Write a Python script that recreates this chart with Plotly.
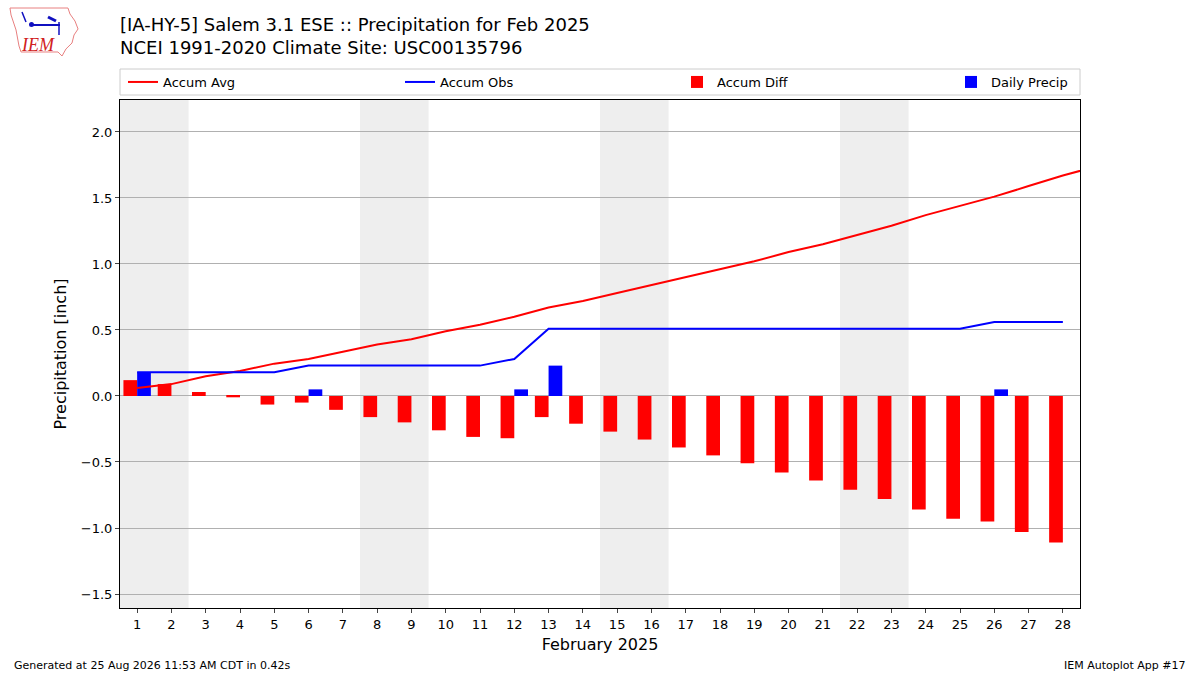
import datetime
import plotly.graph_objects as go

# Values (inches)
days = list(range(1, 29))
daily_precip = [0.18, 0, 0, 0, 0, 0.05, 0, 0, 0, 0, 0, 0.05, 0.23, 0,
                0, 0, 0, 0, 0, 0, 0, 0, 0, 0, 0, 0.05, 0, 0]
accum_obs = [0.18, 0.18, 0.18, 0.18, 0.18, 0.23, 0.23, 0.23, 0.23, 0.23, 0.23, 0.28, 0.51, 0.51,
             0.51, 0.51, 0.51, 0.51, 0.51, 0.51, 0.51, 0.51, 0.51, 0.51, 0.51, 0.56, 0.56, 0.56]
avg_days = list(range(1, 30))
accum_avg = [0.06, 0.09, 0.15, 0.19, 0.245, 0.28, 0.335, 0.39, 0.43, 0.49, 0.54, 0.60, 0.67, 0.72,
             0.78, 0.84, 0.90, 0.96, 1.02, 1.09, 1.15, 1.22, 1.29, 1.37, 1.44, 1.51, 1.59, 1.67, 1.74]
accum_diff = [0.12, 0.09, 0.03, -0.01, -0.065, -0.05, -0.105, -0.16, -0.20, -0.26, -0.31, -0.32,
              -0.16, -0.21, -0.27, -0.33, -0.39, -0.45, -0.51, -0.58, -0.64, -0.71, -0.78, -0.86,
              -0.93, -0.95, -1.03, -1.11]

W, H = 1200, 675
L, R, T, B = 120, 1080, 100, 608
FONT = "DejaVu Sans"


# pixel -> paper coords
def px(x):
    return (x - L) / (R - L)


def py(y):
    return (B - y) / (B - T)


fig = go.Figure()

fig.add_trace(go.Scatter(x=avg_days, y=accum_avg, mode="lines", name="Accum Avg",
                         line=dict(color="red", width=2), legend="legend"))
fig.add_trace(go.Scatter(x=days, y=accum_obs, mode="lines", name="Accum Obs",
                         line=dict(color="blue", width=2), legend="legend2"))
fig.add_trace(go.Bar(x=days, y=accum_diff, name="Accum Diff", marker=dict(color="red", line=dict(width=0)),
                     width=0.4, offset=-0.4, legend="legend3"))
fig.add_trace(go.Bar(x=days, y=daily_precip, name="Daily Precip", marker=dict(color="blue", line=dict(width=0)),
                     width=0.4, offset=0, legend="legend4"))

# weekend shading (Sat+Sun as one block)
shapes = []
for d in days:
    if datetime.date(2025, 2, d).weekday() == 5:
        shapes.append(dict(type="rect", xref="x", yref="paper", x0=d - 0.5, x1=d + 1.5,
                           y0=0, y1=1, fillcolor="#eeeeee", line=dict(width=0), layer="below"))

# legend frame
shapes.append(dict(type="rect", xref="paper", yref="paper", x0=px(120), x1=px(1080), y0=py(95), y1=py(69),
                   line=dict(color="#cccccc", width=1), fillcolor="white", layer="below"))

# crude IEM logo: Iowa outline
iowa = [(10, 8), (68, 8), (70, 14), (75, 21), (78, 29), (74, 35), (72, 43), (66, 49),
        (62, 56), (58, 52), (21, 52), (19, 46), (16, 30), (11, 15)]
path = "M " + " L ".join("%.4f,%.4f" % (px(x), py(y)) for x, y in iowa) + " Z"
shapes.append(dict(type="path", xref="paper", yref="paper", path=path,
                   line=dict(color="#e88080", width=1)))
shapes.append(dict(type="line", xref="paper", yref="paper", x0=px(30), x1=px(60), y0=py(25), y1=py(25),
                   line=dict(color="#1010c0", width=2)))
shapes.append(dict(type="line", xref="paper", yref="paper", x0=px(22), x1=px(26), y0=py(12), y1=py(22),
                   line=dict(color="#1010c0", width=1.5)))
shapes.append(dict(type="line", xref="paper", yref="paper", x0=px(48), x1=px(56), y0=py(17), y1=py(21),
                   line=dict(color="#1010c0", width=3)))
shapes.append(dict(type="line", xref="paper", yref="paper", x0=px(59), x1=px(59), y0=py(22), y1=py(35),
                   line=dict(color="#1010c0", width=1.5)))
shapes.append(dict(type="circle", xref="paper", yref="paper", x0=px(29), x1=px(34), y0=py(22), y1=py(27),
                   fillcolor="#1010c0", line=dict(width=0)))

annotations = [
    dict(text="[IA-HY-5] Salem 3.1 ESE :: Precipitation for Feb 2025<br>NCEI 1991-2020 Climate Site: USC00135796",
         xref="paper", yref="paper", x=px(118), y=py(12), xanchor="left", yanchor="top", align="left",
         showarrow=False, font=dict(family=FONT, size=18, color="black")),
    dict(text="<i>IEM</i>", xref="paper", yref="paper", x=px(38), y=py(45), xanchor="center", yanchor="middle",
         showarrow=False, font=dict(family="Liberation Serif", size=18, color="#d02020")),
    dict(text="Generated at 25 Aug 2026 11:53 AM CDT in 0.42s", xref="paper", yref="paper",
         x=px(12), y=py(665), xanchor="left", yanchor="middle", showarrow=False,
         font=dict(family=FONT, size=11, color="black")),
    dict(text="IEM Autoplot App #17", xref="paper", yref="paper",
         x=px(1188), y=py(665), xanchor="right", yanchor="middle", showarrow=False,
         font=dict(family=FONT, size=11, color="black")),
]


def leg(xpix):
    return dict(orientation="h", x=px(xpix), y=py(82), xanchor="left", yanchor="middle",
                borderwidth=0, bgcolor="rgba(0,0,0,0)", font=dict(family=FONT, size=13))


fig.update_layout(
    width=W, height=H,
    margin=dict(l=L, r=W - R, t=T, b=H - B),
    paper_bgcolor="white", plot_bgcolor="rgba(0,0,0,0)",
    font=dict(family=FONT, size=13, color="black"),
    showlegend=True,
    barmode="overlay",
    legend=leg(123),
    legend2=leg(400),
    legend3=leg(677),
    legend4=leg(951),
    shapes=shapes,
    annotations=annotations,
)

fig.update_xaxes(range=[0.5, 28.5], tickmode="array", tickvals=days, ticktext=[str(d) for d in days],
                 ticks="outside", ticklen=4, showgrid=False, zeroline=False,
                 showline=True, linecolor="black", linewidth=1, mirror=True,
                 title=dict(text="February 2025", font=dict(size=16), standoff=8),
                 tickfont=dict(size=13))
fig.update_yaxes(range=[-1.606, 2.242], tickmode="array",
                 tickvals=[-1.5, -1.0, -0.5, 0.0, 0.5, 1.0, 1.5, 2.0],
                 ticktext=["\u22121.5", "\u22121.0", "\u22120.5", "0.0", "0.5", "1.0", "1.5", "2.0"],
                 ticks="outside", ticklen=4, showgrid=True, gridcolor="#b0b0b0", gridwidth=1,
                 zeroline=False, showline=True, linecolor="black", linewidth=1, mirror=True,
                 title=dict(text="Precipitation [inch]", font=dict(size=16), standoff=10),
                 tickfont=dict(size=13))

fig.write_html("out.html", config={"displayModeBar": False},
               post_script="document.body.style.margin='0';")
